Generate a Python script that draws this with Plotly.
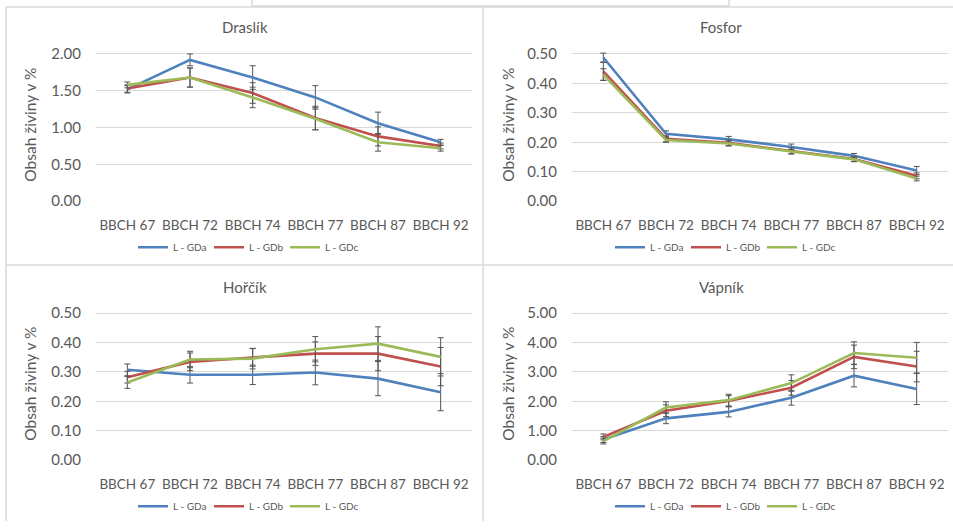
import plotly.graph_objects as go

W, H = 953, 529

categories = ["BBCH 67", "BBCH 72", "BBCH 74", "BBCH 77", "BBCH 87", "BBCH 92"]
series_names = ["L - GDa", "L - GDb", "L - GDc"]
colors = ["#4F81BD", "#C0504D", "#9BBB59"]

# Draslík
k_a = [1.52, 1.92, 1.68, 1.41, 1.06, 0.80]
k_b = [1.53, 1.68, 1.47, 1.13, 0.88, 0.75]
k_c = [1.58, 1.68, 1.41, 1.12, 0.80, 0.72]
k_ea = [0.05, 0.08, 0.16, 0.16, 0.15, 0.04]
k_eb = [0.05, 0.13, 0.14, 0.16, 0.13, 0.04]
k_ec = [0.04, 0.13, 0.14, 0.15, 0.12, 0.04]

# Fosfor
p_a = [0.488, 0.229, 0.210, 0.184, 0.154, 0.104]
p_b = [0.441, 0.212, 0.198, 0.171, 0.143, 0.086]
p_c = [0.430, 0.208, 0.196, 0.168, 0.142, 0.077]
p_ea = [0.015, 0.010, 0.010, 0.010, 0.008, 0.014]
p_eb = [0.030, 0.010, 0.010, 0.010, 0.008, 0.010]
p_ec = [0.020, 0.008, 0.008, 0.008, 0.008, 0.008]

# Hořčík
mg_a = [0.307, 0.290, 0.290, 0.298, 0.277, 0.231]
mg_b = [0.282, 0.334, 0.349, 0.362, 0.362, 0.318]
mg_c = [0.264, 0.342, 0.345, 0.377, 0.396, 0.351]
mg_ea = [0.020, 0.028, 0.033, 0.042, 0.058, 0.063]
mg_eb = [0.020, 0.030, 0.030, 0.040, 0.058, 0.065]
mg_ec = [0.020, 0.028, 0.035, 0.043, 0.057, 0.065]

# Vápník
ca_a = [0.70, 1.42, 1.64, 2.12, 2.87, 2.42]
ca_b = [0.79, 1.68, 2.01, 2.46, 3.51, 3.18]
ca_c = [0.65, 1.79, 2.04, 2.62, 3.64, 3.48]
ca_ea = [0.10, 0.18, 0.17, 0.25, 0.38, 0.53]
ca_eb = [0.10, 0.20, 0.18, 0.25, 0.40, 0.52]
ca_ec = [0.10, 0.19, 0.20, 0.28, 0.38, 0.52]

panels = [
    dict(title="Draslík", vals=[k_a, k_b, k_c], errs=[k_ea, k_eb, k_ec],
         ymax=2.0, dtick=0.5, px=(96, 472), py=(53, 203), tx=245, ty=25, ax=30, lx=247, ly=250),
    dict(title="Fosfor", vals=[p_a, p_b, p_c], errs=[p_ea, p_eb, p_ec],
         ymax=0.5, dtick=0.1, px=(572, 948), py=(53, 203), tx=721, ty=25, ax=508, lx=724, ly=250),
    dict(title="Hořčík", vals=[mg_a, mg_b, mg_c], errs=[mg_ea, mg_eb, mg_ec],
         ymax=0.5, dtick=0.1, px=(96, 472), py=(317, 467), tx=245, ty=291, ax=30, lx=247, ly=514),
    dict(title="Vápník", vals=[ca_a, ca_b, ca_c], errs=[ca_ea, ca_eb, ca_ec],
         ymax=5.0, dtick=1.0, px=(572, 948), py=(317, 467), tx=721, ty=291, ax=508, lx=724, ly=514),
]

FONT = "Lato"
TXT = "#595959"
GRID = "#D9D9D9"

fig = go.Figure()
layout = dict(
    width=W, height=H, margin=dict(l=0, r=0, t=0, b=0),
    paper_bgcolor="white", plot_bgcolor="white",
    font=dict(family=FONT, color=TXT),
    annotations=[], shapes=[],
)

head = 0.05
for i, p in enumerate(panels):
    n = "" if i == 0 else str(i + 1)
    xa, ya = "x" + n, "y" + n
    leg = "legend" + n
    for s in range(3):
        fig.add_trace(go.Scatter(
            x=categories, y=p["vals"][s], name=series_names[s],
            mode="lines", line=dict(color=colors[s], width=2.6),
            error_y=dict(type="data", array=p["errs"][s], visible=True,
                         color="#555555", thickness=1, width=3),
            xaxis=xa, yaxis=ya, legend=leg, showlegend=True,
        ))
    x0, x1 = p["px"]
    ytop, ybot = p["py"]
    ytop_ext = ytop - head * (ybot - ytop)
    ymax = p["ymax"]
    nt = int(round(ymax / p["dtick"]))
    tv = [k * p["dtick"] for k in range(nt + 1)]
    layout["xaxis" + n] = dict(
        domain=[x0 / W, x1 / W], anchor=ya, type="category",
        range=[-0.5, 5.5], showgrid=False, zeroline=False, showline=False,
        ticks="", tickangle=0, tickfont=dict(size=13.5, color=TXT, family=FONT),
        ticklabelstandoff=14, fixedrange=True,
    )
    layout["yaxis" + n] = dict(
        domain=[1 - ybot / H, 1 - ytop_ext / H], anchor=xa,
        range=[0, ymax * (1 + head)], tickvals=tv,
        ticktext=[f"{v:.2f}" for v in tv],
        showgrid=True, gridcolor=GRID, gridwidth=1, zeroline=False,
        showline=False, ticks="", tickfont=dict(size=15, color=TXT, family=FONT),
        ticklabelstandoff=14, fixedrange=True,
    )
    layout[leg] = dict(
        orientation="h", x=p["lx"] / W, y=1 - p["ly"] / H,
        xanchor="center", yanchor="middle",
        font=dict(size=10, color=TXT, family=FONT),
        itemwidth=30, entrywidth=31, entrywidthmode="pixels",
        bgcolor="rgba(0,0,0,0)", tracegroupgap=0,
    )
    layout["annotations"].append(dict(
        text=p["title"], x=p["tx"] / W, y=1 - p["ty"] / H, xref="paper", yref="paper",
        xanchor="center", yanchor="middle", showarrow=False,
        font=dict(size=15, color=TXT, family=FONT),
    ))
    layout["annotations"].append(dict(
        text="Obsah živiny v %", x=p["ax"] / W, y=1 - ((ytop + ybot) / 2 - 3) / H,
        xref="paper", yref="paper", xanchor="center", yanchor="middle",
        textangle=-90, showarrow=False,
        font=dict(size=15.5, color=TXT, family=FONT),
    ))

def line(x0, y0, x1, y1):
    return dict(type="line", xref="paper", yref="paper",
                x0=x0 / W, y0=1 - y0 / H, x1=x1 / W, y1=1 - y1 / H,
                line=dict(color=GRID, width=1.5))

layout["shapes"] += [
    line(6, 5, W, 5),
    line(6, 5, 6, H),
    line(483, 5, 483, H),
    line(6, 268, W, 268),
    dict(type="rect", xref="paper", yref="paper",
         x0=252 / W, x1=729 / W, y0=1 - 4 / H, y1=1.01,
         line=dict(color=GRID, width=1.5), fillcolor="rgba(0,0,0,0)"),
]

fig.update_layout(**layout)
fig.write_html("out.html")
